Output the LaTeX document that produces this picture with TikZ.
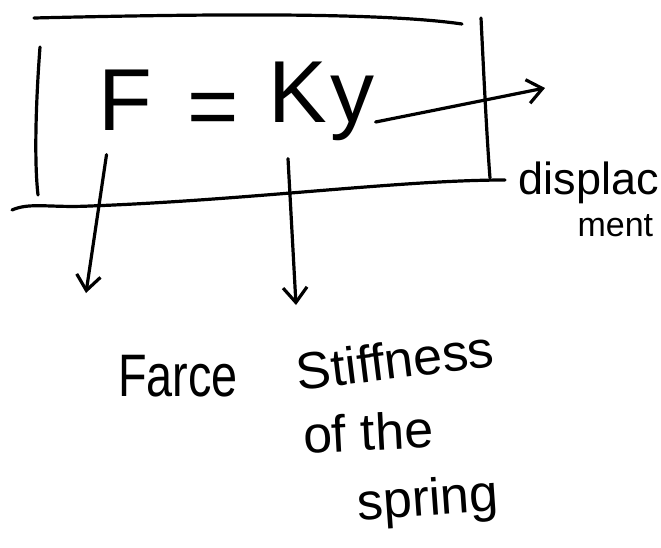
\documentclass[tikz,border=0pt]{standalone}
\usepackage{fontspec}
\setmainfont{Liberation Sans}
\usetikzlibrary{arrows.meta}
\begin{document}
\begin{tikzpicture}[x=1pt,y=-1pt, line width=3.2pt, line cap=round, line join=round,
  arr/.style={-{Straight Barb[length=15pt,width=24pt,line width=3.2pt]}},
  big/.style={font=\fontsize{88}{88}\selectfont, inner sep=0pt},
  lab/.style={font=\fontsize{52}{52}\selectfont, inner sep=0pt},
  sml/.style={font=\fontsize{45}{45}\selectfont, inner sep=0pt}]
\useasboundingbox (0,0) rectangle (661,547);
% hand-drawn box
\draw (34,18) .. controls (200,14) and (380,12) .. (462,24);
\draw (40,47) .. controls (36,100) and (34,160) .. (38,195);
\draw (481,18) .. controls (484,80) and (487,140) .. (490,178);
\draw (12,210) .. controls (30,202) and (50,208) .. (90,206) .. controls (250,200) and (400,180) .. (505,180);
% formula
\node[big, anchor=base] (F) at (125,130) {F};
\node[big] (eq) at (213,115) {=};
\node[big, anchor=base] (K) at (298,122) {K};
\node[big, anchor=base] (y) at (352,122) {y};
% free ends
\coordinate (dispend) at (545,88);
\coordinate (Fend) at (86,293);
\coordinate (Kend) at (296,305);
% connectors
\draw[arr] (y.base east) -- (dispend);
\draw[arr] ([xshift=10pt,yshift=-23pt]F.south west) -- (Fend);
\draw[arr] ([xshift=-10pt,yshift=-35pt]K.south) -- (Kend);
% labels
\node[sml, anchor=base west] (disp) at (517,194) {displac};
\node[font=\fontsize{34}{34}\selectfont, inner sep=0pt, anchor=base west] (ment) at (576,236) {ment};
\node[lab, anchor=base, font=\fontsize{60}{60}\selectfont, xscale=0.78] (farce) at (178,396) {Farce};
\node[lab, rotate=7] (stiff) at (395,360) {Stiffness};
\node[lab, rotate=3] (ofthe) at (368,432) {of the};
\node[lab, rotate=4] (spring) at (428,502) {spring};
\end{tikzpicture}
\end{document}
